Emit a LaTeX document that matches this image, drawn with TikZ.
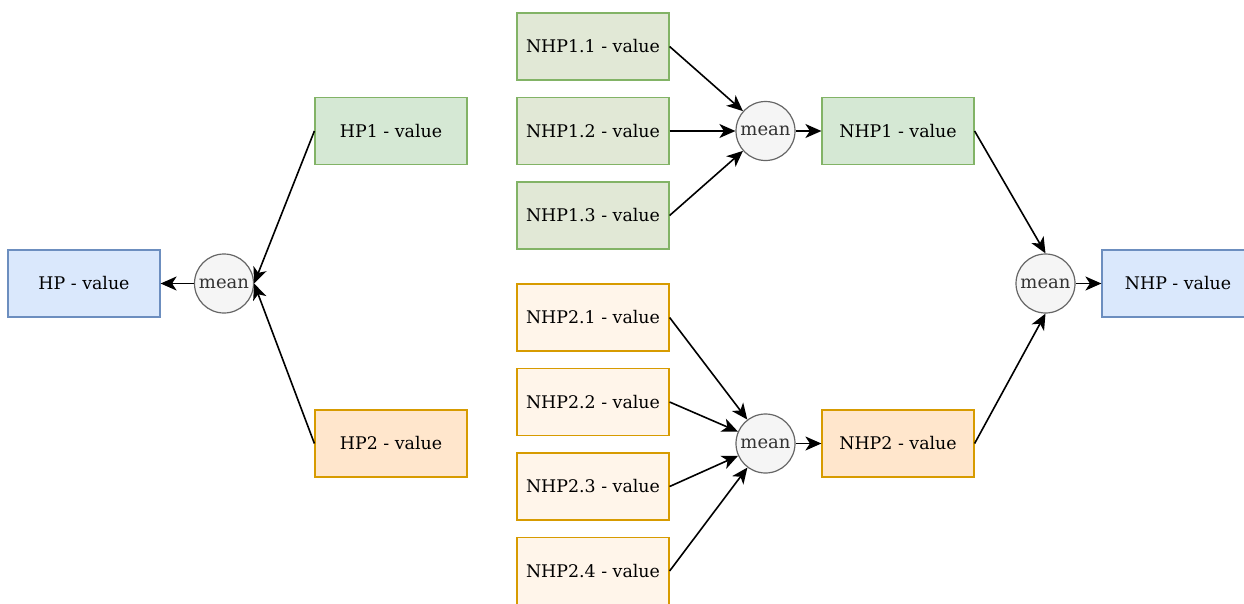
\documentclass[tikz,border=0pt]{standalone}
\usepackage{fontspec}
\setmainfont{DejaVu Serif}
\usetikzlibrary{arrows.meta}
\definecolor{blueF}{HTML}{DAE8FC}\definecolor{blueD}{HTML}{6C8EBF}
\definecolor{greenF}{HTML}{D5E8D4}\definecolor{greenD}{HTML}{82B366}
\definecolor{greenL}{HTML}{E1E8D6}
\definecolor{orangeF}{HTML}{FFE6CC}\definecolor{orangeD}{HTML}{D79B00}
\definecolor{orangeL}{HTML}{FFF5EA}
\definecolor{meanF}{HTML}{F5F5F5}\definecolor{meanD}{HTML}{666666}\definecolor{meanT}{HTML}{333333}
\tikzset{
  box/.style={rectangle, minimum width=152pt, minimum height=67pt, line width=1.2pt, font=\fontsize{17.4}{20}\selectfont, inner sep=0pt},
  bluebox/.style={box, fill=blueF, draw=blueD},
  greenbox/.style={box, fill=greenF, draw=greenD},
  greenlbox/.style={box, fill=greenL, draw=greenD},
  orangebox/.style={box, fill=orangeF, draw=orangeD},
  orangelbox/.style={box, fill=orangeL, draw=orangeD},
  meannode/.style={circle, minimum size=59pt, inner sep=0pt, fill=meanF, draw=meanD, line width=1.2pt, text=meanT, font=\fontsize{18}{20}\selectfont},
  conn/.style={line width=1.6pt, -{Stealth[length=16pt, width=14pt, inset=4.5pt]}},
}
\begin{document}
\begin{tikzpicture}[x=1pt, y=-1pt]
\useasboundingbox (0,0) rectangle (1244,603);
% left part
\node[bluebox] (hp) at (84,283.5) {HP - value};
\node[meannode] (mL) at (224,283.5) {mean};
\node[greenbox] (hp1) at (391,131) {HP1 - value};
\node[orangebox] (hp2) at (391,443.5) {HP2 - value};
% NHP1 group
\node[greenlbox] (n11) at (593,46.5) {NHP1.1 - value};
\node[greenlbox] (n12) at (593,131) {NHP1.2 - value};
\node[greenlbox] (n13) at (593,215.5) {NHP1.3 - value};
\node[meannode] (mT) at (765.5,131) {mean};
\node[greenbox] (nhp1) at (898,131) {NHP1 - value};
% NHP2 group
\node[orangelbox] (n21) at (593,317.5) {NHP2.1 - value};
\node[orangelbox] (n22) at (593,402) {NHP2.2 - value};
\node[orangelbox] (n23) at (593,486.5) {NHP2.3 - value};
\node[orangelbox] (n24) at (593,571) {NHP2.4 - value};
\node[meannode] (mB) at (765.5,443.5) {mean};
\node[orangebox] (nhp2) at (898,443.5) {NHP2 - value};
% right part
\node[meannode] (mR) at (1045.5,283.5) {mean};
\node[bluebox] (nhp) at (1178,283.5) {NHP - value};
% connectors
\draw[conn] (hp1.west) -- (mL.east);
\draw[conn] (hp2.west) -- (mL.east);
\draw[conn] (mL) -- (hp);
\draw[conn] (n11.east) -- (mT);
\draw[conn] (n12.east) -- (mT);
\draw[conn] (n13.east) -- (mT);
\draw[conn] (mT) -- (nhp1);
\draw[conn] (n21.east) -- (mB);
\draw[conn] (n22.east) -- (mB);
\draw[conn] (n23.east) -- (mB);
\draw[conn] (n24.east) -- (mB);
\draw[conn] (mB) -- (nhp2);
\draw[conn] (nhp1.east) -- (mR.north);
\draw[conn] (nhp2.east) -- (mR.south);
\draw[conn] (mR) -- (nhp);
\end{tikzpicture}
\end{document}
